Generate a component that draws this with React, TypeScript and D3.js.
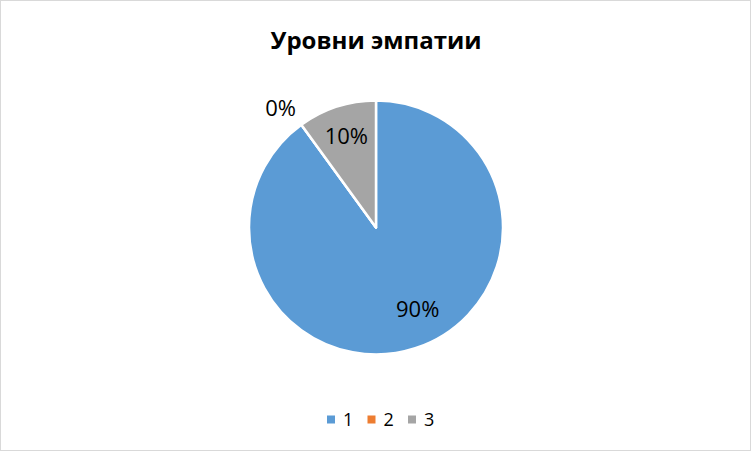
import React from 'react';
import * as d3 from 'd3';

const categories = ['1', '2', '3'];
const values = [90, 0, 10];
const percentLabels = ['90%', '0%', '10%'];
const colors = ['#5B9BD5', '#ED7D31', '#A5A5A5'];
const title = 'Уровни эмпатии';

const App: React.FC = () => {
    const width = 752;
    const height = 452;
    const cx = 376;
    const cy = 227.5;
    const radius = 127;

    const pie = d3.pie<number>().sort(null).value((d) => d);
    const arcs = pie(values);
    const arc = d3.arc<d3.PieArcDatum<number>>().innerRadius(0).outerRadius(radius);
    const labelArc = d3.arc<d3.PieArcDatum<number>>().innerRadius(96).outerRadius(96);
    const outerArc = d3.arc<d3.PieArcDatum<number>>().innerRadius(152).outerRadius(152);
    // best-fit nudges, like Excel's label placement
    const nudges: [number, number][] = [[12, -10], [-6, 4], [0, 0]];

    const legendX = d3.scalePoint<string>().domain(categories).range([327, 408]);

    return (
        <svg
            width={width}
            height={height}
            style={{ position: 'fixed', left: 0, top: 0, fontFamily: '"Open Sans", sans-serif' }}
        >
            <rect x={0.5} y={0.5} width={width - 2} height={height - 2} fill="#fff" stroke="#D9D9D9" />
            <text x={cx} y={49} textAnchor="middle" fontSize={24} fontWeight="bold" fill="#000">
                {title}
            </text>
            <g transform={`translate(${cx},${cy})`}>
                {arcs.map((a, i) => (
                    <path key={i} d={arc(a) || ''} fill={colors[i]} stroke="#fff" strokeWidth={2.5} strokeLinejoin="round" />
                ))}
                {arcs.map((a, i) => {
                    const [lx, ly] = a.data === 0 ? outerArc.centroid(a) : labelArc.centroid(a);
                    return (
                        <text
                            key={`l${i}`}
                            x={lx + nudges[i][0]}
                            y={ly + nudges[i][1]}
                            dy="0.35em"
                            textAnchor="middle"
                            fontSize={22}
                            fill="#000"
                        >
                            {percentLabels[i]}
                        </text>
                    );
                })}
            </g>
            <g>
                {categories.map((c, i) => (
                    <g key={c} transform={`translate(${legendX(c)},419.5)`}>
                        <rect x={0} y={-4} width={8} height={8} fill={colors[i]} />
                        <text x={16} y={0} dy="0.35em" fontSize={18} fill="#000">
                            {c}
                        </text>
                    </g>
                ))}
            </g>
        </svg>
    );
};

export default App;
